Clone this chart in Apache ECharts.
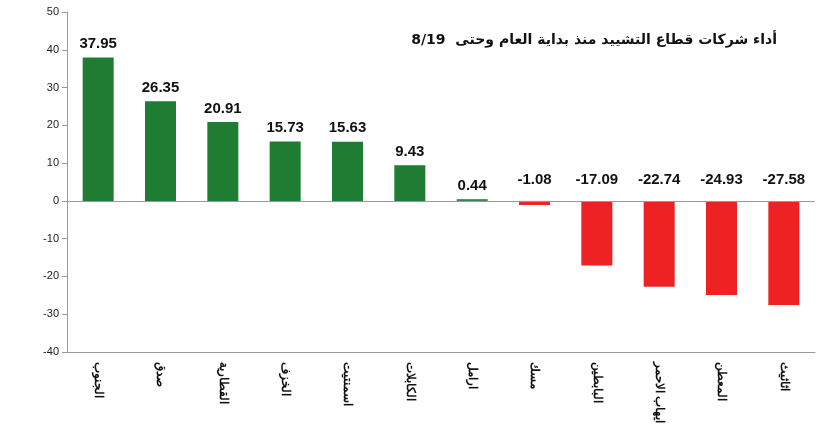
<!DOCTYPE html><html><head><meta charset="utf-8"><script src="https://cdn.jsdelivr.net/npm/echarts@6/dist/echarts.min.js"></script></head><body style="margin:0;background:#fff"><div id="c" style="width:830px;height:447px"></div><script>
const categories=["الجنوب","صدق","القطارية","الخزف","اسمنتيت","الكابلات","ارامل","مسك","البابطين","ايهاب الاحمر","المعطن","اثاثيث"];
const values=[37.95,26.35,20.91,15.73,15.63,9.43,0.44,-1.08,-17.09,-22.74,-24.93,-27.58];
const title="أداء شركات قطاع التشييد منذ بداية العام وحتى  8/19";
const c=echarts.init(document.getElementById('c'));
c.setOption({animation:false,
title:{text:title,right:48,top:28,textStyle:{fontSize:14,fontWeight:'bold',color:'#111',fontFamily:'DejaVu Sans'}},
grid:{left:67,right:15,top:12,bottom:95},
xAxis:{type:'category',data:categories,axisLine:{onZero:false,lineStyle:{color:'#999'}},axisTick:{lineStyle:{color:'#999'}},
axisLabel:{rotate:-90,color:'#111',fontSize:12,fontWeight:'bold',margin:10}},
yAxis:{type:'value',min:-40,max:50,interval:10,axisLine:{show:true,lineStyle:{color:'#999'}},axisTick:{show:true},splitLine:{show:false},axisLabel:{color:'#222',fontSize:11}},
series:[{type:'bar',barWidth:31,data:values.map(v=>({value:v,itemStyle:{color:v>=0?'#1e7d32':'#ee2222'}})),
label:{show:true,position:'top',formatter:p=>p.value.toFixed(2),fontSize:15,fontWeight:'bold',color:'#111',fontFamily:'Arial',distance:6},
markLine:{silent:true,symbol:'none',label:{show:false},lineStyle:{color:'#999',type:'solid',width:1},data:[{yAxis:0}]}}]});
c.setOption({series:[{label:{position:'top'}}]});
// negative labels: above axis at zero? reference puts them above the zero line
c.setOption({series:[{data:values.map(v=>({value:v,itemStyle:{color:v>=0?'#1e7d32':'#ee2222'},label:v<0?{position:'insideBottom',offset:[0,-( (Math.abs(v))/90*340 )-8],color:'#111'}:{}}))}]});
</script></body></html>
